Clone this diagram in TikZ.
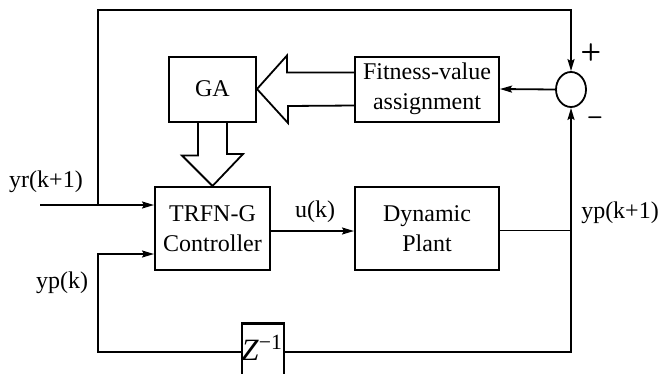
\documentclass[tikz,border=0pt]{standalone}
\usepackage{fontspec}
\setmainfont{Liberation Serif}
\usetikzlibrary{arrows.meta,shapes.geometric,calc}
\tikzset{
  blk/.style={draw,line width=2pt,inner sep=0pt,align=center,font=\fontsize{24}{30}\selectfont},
  arr/.style={line width=1.8pt,-{Stealth[length=12pt,width=7pt,inset=2pt]}},
  ln/.style={line width=1.8pt},
  hollow/.style={line width=1.8pt,line join=miter},
  lbl/.style={font=\fontsize{24}{30}\selectfont,inner sep=0pt},
  sign/.style={inner sep=0pt,font=\fontsize{24}{24}\selectfont\sffamily\bfseries}
}
\begin{document}
\begin{tikzpicture}[x=1pt,y=-1pt]
\useasboundingbox[fill=white] (0,0) rectangle (660,373);
% blocks
\node[blk,minimum width=87pt,minimum height=65pt] (ga) at (212.5,89) {GA};
\node[blk,minimum width=144pt,minimum height=65pt] (fit) at (427,89) {Fitness-value\\assignment};
\node[blk,minimum width=115pt,minimum height=83pt] (trfn) at (212.5,228.5) {TRFN-G\\Controller};
\node[blk,minimum width=144pt,minimum height=83pt] (plant) at (427,228.5) {Dynamic\\Plant};
\node[draw,ellipse,line width=1.8pt,minimum width=30pt,minimum height=35pt,inner sep=0pt] (sum) at (571,89.5) {};
\node[draw,line width=2pt,minimum width=42pt,minimum height=56pt,inner sep=0pt] (z) at (263,352) {};
\node[inner sep=0pt] (zt) at (262,348) {\fontsize{31}{31}\selectfont\textit{Z}\raisebox{2pt}{\textsuperscript{−1}}};
\draw[line width=3pt] (z.north west) -- (z.north east);
% coordinates
\coordinate (yrin) at (40,205);
\coordinate (j1) at (98,205);
\coordinate (tl) at (98,10);
\coordinate (bl) at (98,352);
\coordinate (br) at (571,352);
% hollow arrows
\draw[hollow] ([yshift=16.5pt]fit.west) -- ++(-67pt,0pt) -- ++(0pt,17pt) -- (ga.east)
  -- ++(31pt,-34pt) -- ++(0pt,17pt) -- ([yshift=-16.5pt]fit.west);
\draw[hollow] ([xshift=-14.5pt]ga.south) -- ++(0pt,-33pt) -- ++(-16pt,0pt) -- (trfn.north)
  -- ++(30.5pt,32pt) -- ++(-16pt,0pt) -- ([xshift=14.5pt]ga.south);
% connectors
\draw[arr] (yrin) -- (trfn.west |- yrin);
\draw[arr] (j1) -- (tl) -- (tl -| sum.north) -- (sum.north);
\draw[arr] (z.west) -- (bl) |- ([yshift=-25.5pt]trfn.west);
\draw[arr] (z.east) -- (br) -- (sum.south);
\draw[arr] ([yshift=-2.5pt]trfn.east) -- ([yshift=-2.5pt]plant.west);
\draw[ln] ([yshift=-2pt]plant.east) -- ([yshift=-2pt]plant.east -| br);
\draw[arr] (sum.west) -- (fit.east);
% labels
\node[lbl] (lyr) at (46,182) {yr(k+1)};
\node[lbl] (lyp) at (62,283) {yp(k)};
\node[lbl] (lu) at (315,212) {u(k)};
\node[lbl] (lyp1) at (620,213) {yp(k+1)};
\node[sign] (plus) at (591,52) {+};
\node[sign] (minus) at (595,121) {–};
\end{tikzpicture}
\end{document}
